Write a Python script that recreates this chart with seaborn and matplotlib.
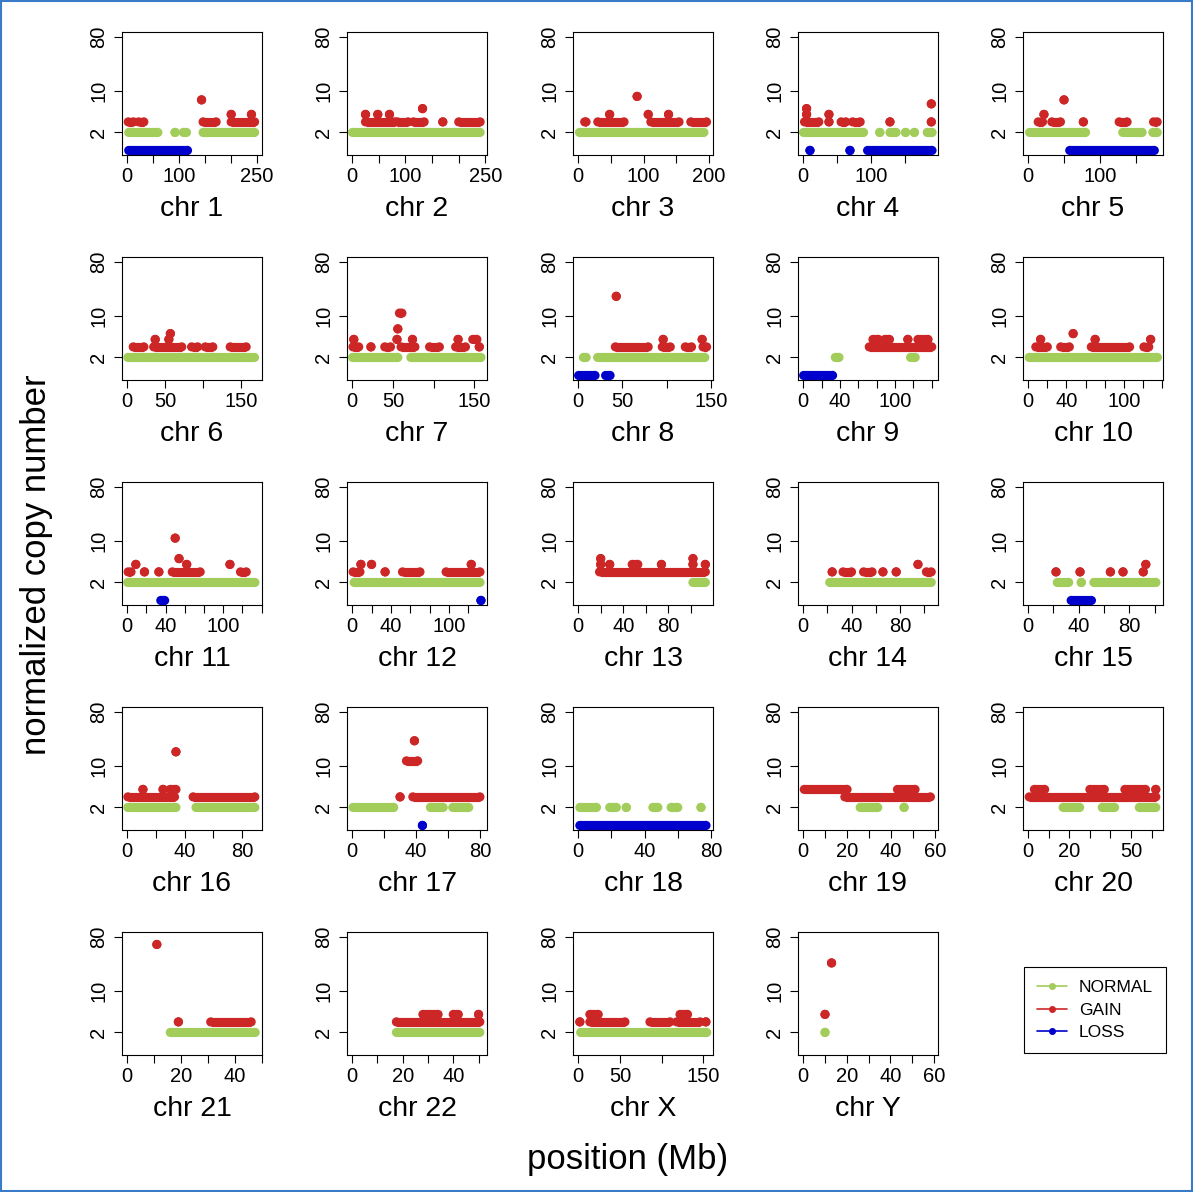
import numpy as np
import pandas as pd
import matplotlib
matplotlib.use("Agg")
import matplotlib.pyplot as plt
from matplotlib.lines import Line2D
from matplotlib.patches import Rectangle
from matplotlib.ticker import NullLocator
import seaborn as sns

# chromosome panels
chroms = ['1', '2', '3', '4', '5', '6', '7', '8', '9', '10', '11', '12',
          '13', '14', '15', '16', '17', '18', '19', '20', '21', '22', 'X', 'Y']
chrom_len = [249.3, 243.2, 198.0, 191.2, 180.9, 171.1, 159.1, 146.4, 141.2, 135.5, 135.0, 133.9,
             115.2, 107.3, 102.5, 90.4, 81.2, 78.1, 59.1, 63.0, 48.1, 51.3, 155.3, 59.4]
tick_step = [50, 50, 50, 50, 50, 50, 50, 50, 20, 20, 20, 20,
             20, 20, 20, 20, 20, 20, 10, 10, 10, 10, 50, 10]
tick_labeled = [[0, 100, 250], [0, 100, 250], [0, 100, 200], [0, 100], [0, 100],
                [0, 50, 150], [0, 50, 150], [0, 50, 150], [0, 40, 100], [0, 40, 100],
                [0, 40, 100], [0, 40, 100], [0, 40, 80], [0, 40, 80], [0, 40, 80],
                [0, 40, 80], [0, 40, 80], [0, 40, 80], [0, 20, 40, 60], [0, 20, 50],
                [0, 20, 40], [0, 20, 40], [0, 50, 150], [0, 20, 40, 60]]
y_ticks = [2, 10, 80]

# runs of bins: (chrom, start Mb, end Mb)  -> copy number 2
normal_runs = [
    ('1', 3, 59), ('1', 92, 92), ('1', 108, 114), ('1', 146, 245),
    ('2', 0.5, 240),
    ('3', 2, 192),
    ('4', 0.5, 89), ('4', 113, 113), ('4', 128, 137), ('4', 151, 151), ('4', 164, 164), ('4', 183, 190),
    ('5', 2, 80), ('5', 132, 159), ('5', 174, 180),
    ('6', 1, 168),
    ('7', 0.5, 56), ('7', 72, 158),
    ('8', 6, 9), ('8', 22, 143),
    ('9', 35, 39), ('9', 117, 122),
    ('10', 1, 135),
    ('11', 0.5, 133),
    ('12', 2, 132),
    ('13', 102, 113),
    ('14', 22, 106),
    ('15', 23, 32), ('15', 42, 42), ('15', 52, 101),
    ('16', 0.5, 34), ('16', 48, 89),
    ('17', 0.5, 26), ('17', 49, 57), ('17', 63, 73),
    ('18', 1, 11), ('18', 19, 23), ('18', 29, 29), ('18', 45, 48), ('18', 56, 60), ('18', 74, 74),
    ('19', 26, 34), ('19', 46, 46),
    ('20', 17, 25), ('20', 36, 42), ('20', 54, 62),
    ('21', 16, 47.5),
    ('22', 17.5, 50.5),
    ('X', 3, 154),
    ('Y', 10, 10),
]

# (chrom, start Mb, end Mb) -> copy number 1
loss_runs = [
    ('1', 3, 116),
    ('4', 10, 10), ('4', 69, 69), ('4', 95, 190),
    ('5', 58, 176),
    ('8', 0.5, 19), ('8', 31, 36),
    ('9', 0.5, 32),
    ('11', 35, 39),
    ('12', 133, 133),
    ('15', 34, 50),
    ('17', 44, 44),
    ('18', 1, 77),
]

# (chrom, start Mb, end Mb, copy number)
gain_runs = [
    ('1', 2, 12, 3), ('1', 22, 32, 3), ('1', 146, 171, 3), ('1', 200, 245, 3), ('1', 200, 200, 4),
    ('1', 239, 239, 4), ('1', 143, 143, 7),
    ('2', 25, 80, 3), ('2', 85, 105, 3), ('2', 115, 135, 3), ('2', 170, 170, 3), ('2', 200, 240, 3),
    ('2', 25, 25, 4), ('2', 48, 48, 4), ('2', 70, 70, 4), ('2', 132, 132, 5),
    ('3', 10, 12, 3), ('3', 30, 70, 3), ('3', 111, 154, 3), ('3', 172, 196, 3), ('3', 48, 48, 4),
    ('3', 107, 107, 4), ('3', 138, 138, 4), ('3', 90, 90, 8),
    ('4', 2, 23, 3), ('4', 38, 38, 3), ('4', 56, 63, 3), ('4', 73, 84, 3), ('4', 128, 128, 3),
    ('4', 189, 189, 3), ('4', 5, 5, 4), ('4', 38, 38, 4), ('4', 5, 5, 5), ('4', 189, 189, 6),
    ('5', 14, 20, 3), ('5', 33, 45, 3), ('5', 77, 77, 3), ('5', 127, 138, 3), ('5', 175, 180, 3),
    ('5', 22, 22, 4), ('5', 50, 50, 7),
    ('6', 8, 22, 3), ('6', 35, 72, 3), ('6', 85, 93, 3), ('6', 103, 113, 3), ('6', 136, 157, 3),
    ('6', 37, 37, 4), ('6', 55, 55, 4), ('6', 57, 57, 5),
    ('7', 1, 8, 3), ('7', 23, 23, 3), ('7', 40, 47, 3), ('7', 60, 77, 3), ('7', 95, 107, 3),
    ('7', 127, 139, 3), ('7', 156, 156, 3), ('7', 2, 2, 4), ('7', 55, 55, 4), ('7', 74, 74, 4),
    ('7', 130, 130, 4), ('7', 148, 153, 4), ('7', 56, 56, 6), ('7', 58, 61, 11),
    ('8', 42, 79, 3), ('8', 95, 104, 3), ('8', 121, 128, 3), ('8', 141, 145, 3), ('8', 96, 96, 4),
    ('8', 140, 140, 4), ('8', 43, 43, 21),
    ('9', 72, 140, 3), ('9', 76, 82, 4), ('9', 89, 94, 4), ('9', 114, 114, 4), ('9', 125, 136, 4),
    ('10', 8, 20, 3), ('10', 34, 43, 3), ('10', 66, 106, 3), ('10', 121, 126, 3), ('10', 13, 13, 4),
    ('10', 70, 70, 4), ('10', 128, 128, 4), ('10', 47, 47, 5),
    ('11', 1, 4, 3), ('11', 18, 18, 3), ('11', 33, 33, 3), ('11', 47, 76, 3), ('11', 118, 124, 3),
    ('11', 9, 9, 4), ('11', 62, 62, 4), ('11', 107, 107, 4), ('11', 54, 54, 5), ('11', 50, 50, 11),
    ('12', 1, 8, 3), ('12', 34, 34, 3), ('12', 52, 70, 3), ('12', 97, 132, 3), ('12', 9, 9, 4),
    ('12', 20, 20, 4), ('12', 123, 123, 4),
    ('13', 19, 113, 3), ('13', 20, 20, 4), ('13', 28, 28, 4), ('13', 48, 53, 4), ('13', 74, 74, 4),
    ('13', 102, 102, 4), ('13', 113, 113, 4), ('13', 20, 20, 5), ('13', 102, 102, 5),
    ('14', 24, 24, 3), ('14', 33, 40, 3), ('14', 50, 57, 3), ('14', 66, 66, 3), ('14', 77, 77, 3),
    ('14', 102, 106, 3), ('14', 95, 95, 4),
    ('15', 22, 22, 3), ('15', 41, 41, 3), ('15', 65, 65, 3), ('15', 75, 75, 3), ('15', 91, 91, 3),
    ('15', 93, 93, 4),
    ('16', 0.5, 33, 3), ('16', 46, 89, 3), ('16', 11, 11, 4), ('16', 25, 25, 4), ('16', 30, 34, 4),
    ('16', 34, 34, 17),
    ('17', 30, 30, 3), ('17', 38, 80, 3), ('17', 34, 41, 12), ('17', 39, 39, 26),
    ('19', 0.5, 20, 4), ('19', 19, 58, 3), ('19', 43, 51, 4),
    ('20', 0.5, 62, 3), ('20', 3, 8, 4), ('20', 30, 37, 4), ('20', 47, 57, 4), ('20', 62, 62, 4),
    ('21', 19, 19, 3), ('21', 31, 46, 3), ('21', 11, 11, 59),
    ('22', 17.5, 50.5, 3), ('22', 28, 34, 4), ('22', 40, 42, 4), ('22', 50, 50, 4),
    ('X', 2, 2, 3), ('X', 14, 56, 3), ('X', 86, 110, 3), ('X', 118, 146, 3), ('X', 153, 153, 3),
    ('X', 14, 24, 4), ('X', 122, 131, 4),
    ('Y', 10, 10, 4), ('Y', 13, 13, 29),
]

palette = {'NORMAL': '#A2CD5A', 'GAIN': '#CD2626', 'LOSS': '#0000CD'}

rows = [(c, s, e, 2, 'NORMAL') for c, s, e in normal_runs]
rows += [(c, s, e, 1, 'LOSS') for c, s, e in loss_runs]
rows += [(c, s, e, cn, 'GAIN') for c, s, e, cn in gain_runs]
runs = pd.DataFrame(rows, columns=['chrom', 'start', 'end', 'cn', 'status'])

sns.set_theme(style="white")
plt.rcParams['font.family'] = ['Liberation Sans', 'DejaVu Sans']
plt.rcParams.update({'text.color': 'black', 'axes.labelcolor': 'black',
                     'xtick.color': 'black', 'ytick.color': 'black'})

W, H = 1193, 1192
fig = plt.figure(figsize=(W / 100, H / 100), dpi=100)

col_left = [122, 347, 573, 798, 1023]
row_top = [32, 257, 482, 707, 932]
pw, ph = 140, 123
dot = 6.6  # marker diameter in points

# R-like log2 range: data 1..80 padded by 4%
lo, hi = 0.0, np.log2(80)
pad = 0.04 * (hi - lo)

for i, c in enumerate(chroms):
    r, k = divmod(i, 5)
    ax = fig.add_axes([col_left[k] / W, 1 - (row_top[r] + ph) / H, pw / W, ph / H])
    sub = runs[runs.chrom == c]
    ax.hlines(sub.cn, sub.start, sub.end, colors=sub.status.map(palette),
              linewidth=dot, zorder=2)
    ends = pd.concat([sub.assign(pos=sub.start), sub.assign(pos=sub.end)])
    sns.scatterplot(data=ends, x='pos', y='cn', hue='status', palette=palette,
                    s=dot ** 2, linewidth=0, legend=False, ax=ax, zorder=3)

    L = chrom_len[i]
    ax.set_xlim(-0.04 * L, 1.04 * L)
    ticks = np.arange(0, 1.04 * L + 1e-9, tick_step[i])
    ax.set_xticks(ticks)
    ax.set_xticklabels([str(int(t)) if int(t) in tick_labeled[i] else '' for t in ticks])

    ax.set_yscale('log', base=2)
    ax.set_ylim(2 ** (lo - pad), 2 ** (hi + pad))
    ax.set_yticks(y_ticks)
    ax.set_yticklabels([str(t) for t in y_ticks], rotation=90, va='center')
    ax.yaxis.set_minor_locator(NullLocator())

    ax.set_xlabel('')
    ax.set_ylabel('')
    for sp in ax.spines.values():
        sp.set_visible(True)
        sp.set_color('black')
        sp.set_linewidth(0.8)
    ax.tick_params(axis='both', direction='out', length=5.8, width=0.8,
                   colors='black', labelsize=14.5)
    ax.tick_params(axis='x', pad=2.5, bottom=True)
    ax.tick_params(axis='y', pad=4, left=True)
    ax.text(0.5, -0.435, f'chr {c}', transform=ax.transAxes, ha='center',
            va='center', fontsize=20.5)

handles = [Line2D([], [], color=palette[s], marker='o', markersize=4, lw=1.2)
           for s in ['NORMAL', 'GAIN', 'LOSS']]
leg = fig.legend(handles, ['NORMAL', 'GAIN', 'LOSS'], loc='upper left',
                 bbox_to_anchor=(1024 / W, 1 - 967 / H), borderaxespad=0,
                 fontsize=12.5, frameon=True, fancybox=False, edgecolor='black',
                 framealpha=1, handlelength=1.7, handletextpad=0.7,
                 labelspacing=0.42, borderpad=0.75)
leg.get_frame().set_linewidth(0.8)

fig.text(628 / W, 1 - 1160 / H, 'position (Mb)', ha='center', va='center', fontsize=25)
fig.text(37 / W, 1 - 565 / H, 'normalized copy number', ha='center', va='center',
         rotation=90, fontsize=25)

fig.patches.append(Rectangle((0.001, 0.001), 0.998, 0.998, transform=fig.transFigure,
                             fill=False, edgecolor='#3A7BC8', linewidth=1.5))

fig.savefig('out.png', dpi=100)
